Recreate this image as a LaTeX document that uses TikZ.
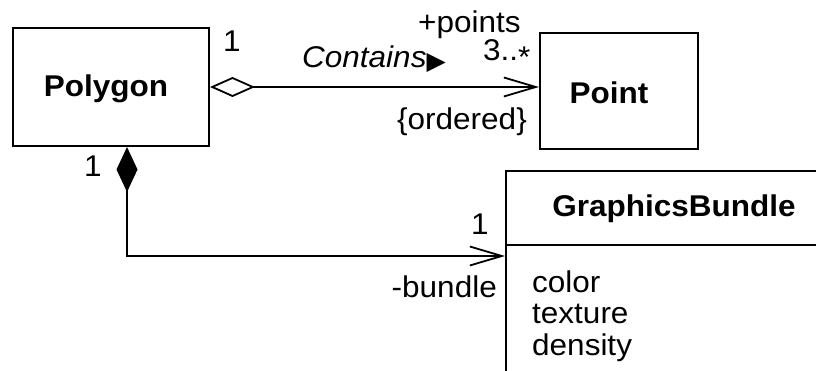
\documentclass[tikz,border=0pt]{standalone}
\usepackage{fontspec}
\setmainfont{Liberation Sans}[FakeStretch=1.05]
\newfontfamily\dejavu{DejaVu Sans}
\usetikzlibrary{arrows.meta}
\begin{document}
\begin{tikzpicture}[x=1pt,y=-1pt,
  every node/.style={font=\fontsize{30}{30}\selectfont, inner sep=0pt},
  classbox/.style={draw, line width=2pt, anchor=north west, inner sep=0pt},
  conn/.style={line width=1.8pt},
  aggr/.style={conn, {Diamond[open, length=45pt, width=20pt, line width=1.8pt]}-{Straight Barb[length=32pt, width=19pt, line width=1.8pt]}},
  comp/.style={conn, {Diamond[fill=black, length=45pt, width=21pt]}-{Straight Barb[length=32pt, width=19pt, line width=1.8pt]}},
  lab/.style={}]
\useasboundingbox (0,0) rectangle (816,371);
\clip (0,0) rectangle (816,371);
\fill[white] (0,0) rectangle (816,371);
% classes
\node[classbox, minimum width=196pt, minimum height=118pt,
      label={[xshift=-5pt, yshift=-2pt]center:\textbf{Polygon}}] (poly) at (12,27) {};
\node[classbox, minimum width=158pt, minimum height=116pt,
      label={[xshift=-10pt, yshift=-2pt]center:\textbf{Point}}] (point) at (539,32) {};
\node[classbox, minimum width=330pt, minimum height=230pt] (gb) at (505,170) {};
\draw[line width=2pt] (gb.west |- 0,245) -- (gb.east |- 0,245);
\node[anchor=base] (gbname) at (674,217) {\textbf{GraphicsBundle}};
\node[anchor=base west] (a1) at (532,292) {color};
\node[anchor=base west] (a2) at (532,323) {texture};
\node[anchor=base west] (a3) at (532,355) {density};
% aggregation
\draw[aggr] (poly.east) -- (poly.east -| point.west);
\node[anchor=base] (m1) at (232,52) {1};
\node[anchor=base west] (assoc) at (302,68) {\textit{Contains}\raisebox{-2pt}{\dejavu\fontsize{25}{25}\selectfont ▶}};
\node[anchor=base west] (role1) at (418,33) {+points};
\node[anchor=base west] (m2) at (483,61) {3..\raisebox{-7pt}{*}};
\node[anchor=base east] (ord) at (527,130) {\{ordered\}};
% composition
\coordinate (bend) at (127,256);
\draw[comp] (bend |- poly.south) -- (bend) -- (bend -| gb.west);
\node[anchor=base] (m3) at (93,177) {1};
\node[anchor=base] (m4) at (480,235) {1};
\node[anchor=base east] (role2) at (497,297) {-bundle};
\end{tikzpicture}
\end{document}
